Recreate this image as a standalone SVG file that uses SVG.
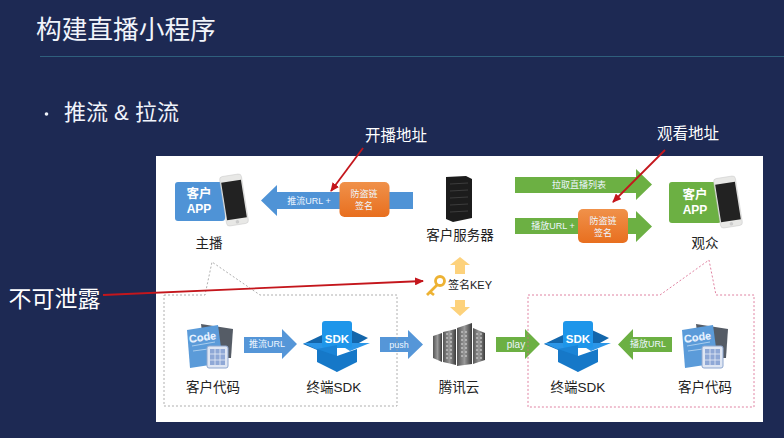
<svg xmlns="http://www.w3.org/2000/svg" xmlns:xlink="http://www.w3.org/1999/xlink" width="784" height="438" viewBox="0 0 784 438">
<style>
text{font-family:"Liberation Sans","Noto Sans CJK SC",sans-serif;fill:#222;text-anchor:middle}
.w{fill:#fff}
.h{fill:#f1f4fb;text-anchor:start}
.l{font-size:13.5px}
.s{font-size:9px;fill:#eef6ff}
.b{font-weight:bold;fill:#fff}
.red{stroke:#c4161c;fill:none;marker-end:url(#ra)}
.dg{fill:none;stroke:#9a9a9a;stroke-width:.8;stroke-dasharray:2 2}
.dr{fill:none;stroke:#d8638a;stroke-width:.8;stroke-dasharray:2 2}
</style>
<defs>
<marker id="ra" markerUnits="userSpaceOnUse" markerWidth="9" markerHeight="8" refX="8" refY="4" orient="auto"><path d="M0 0L9 4L0 8Z" fill="#c4161c"/></marker>
<linearGradient id="or" x1="0" y1="0" x2="0" y2="1"><stop offset="0" stop-color="#f0914a"/><stop offset="1" stop-color="#e86f1f"/></linearGradient>
<linearGradient id="sv" x1="0" y1="0" x2="1" y2="0"><stop offset="0" stop-color="#555"/><stop offset=".5" stop-color="#999"/><stop offset="1" stop-color="#3a3a3a"/></linearGradient>
<g id="phone">
<rect x="-11" y="-25" width="22" height="50" rx="3" fill="#e8e8e6" stroke="#c8c8c8" stroke-width=".5"/>
<rect x="-10" y="-19" width="20" height="38" fill="#222"/>
<circle cx="0" cy="22" r="1.800" fill="#ccc"/>
</g>
<g id="rack">
<path d="M0 0V28M4 0V28" stroke="#ddd" stroke-width="1" stroke-dasharray="2 2"/>
</g>
<g id="code">
<path d="M201 324L233 329L231 358L205 358Z" fill="#555c66"/>
<path d="M187 330L218 325L223 363L190 368Z" fill="#5b9bd9"/>
<path d="M192 341L215 337M192 346L215 342M193 351L208 349" stroke="#a9cdee" stroke-width="1"/>
<rect x="207" y="346" width="21" height="22" rx="2" fill="#dfe6f3" stroke="#8da6cf"/>
<path d="M210 349h15v16h-15z" fill="#8fa8d6"/>
<path d="M215 349v16M220 349v16M210 354h15M210 360h15" stroke="#e6ecf8" stroke-width=".8"/>
<text x="203" y="341" transform="rotate(-8 203 341)" style="font-size:11px;font-weight:bold;fill:#e8f2ff">Code</text>
</g>
<g id="sdk">
<path d="M322 335L303 344L322 352Z" fill="#1366ab"/>
<path d="M351 330L368 338L348 349Z" fill="#1366ab"/>
<path d="M303 343L320 351L337 343Z" fill="#2b96e8"/>
<path d="M337 343L370 343L350 351Z" fill="#2b96e8"/>
<rect x="322" y="321" width="30" height="27" rx="3" fill="#1e96ea"/>
<path d="M317 349L337 345L337 372Z" fill="#1b84d6"/>
<path d="M317 349L337 356L357 349L357 362L337 372L317 362Z" fill="#1678c8"/>
<text x="337" y="343" style="font-size:11.500px;font-weight:bold;fill:#fff">SDK</text>
</g>
</defs>
<rect width="784" height="438" fill="#1d2953"/>
<g id="header">
<text x="36" y="39" class="h" style="font-size:25.700px">构建直播小程序</text>
<path d="M40 56.500H784" stroke="#2f5f7c" stroke-width="1"/>
<circle cx="46.500" cy="114" r="1.800" fill="#f1f4fb"/>
<text x="64" y="120" class="h" style="font-size:22px">推流 &amp; 拉流</text>
</g>
<rect id="panel" x="156" y="156" width="607" height="266" fill="#fff"/>
<g id="connectors">
<path id="arrow-push-url-top" d="M413 192V209H277V216L261 200.500L277 185V192Z" fill="#4f93d6"/>
<path id="arrow-list" d="M515 177H636V169L652 184.500L636 200V193H515Z" fill="#6cb043"/>
<path id="arrow-play-url" d="M515 218H636V211L652 226.500L636 242V234H515Z" fill="#6cb043"/>
<path id="arrow-key-up" d="M460 257L470 265H465V274H455V265H450Z" fill="#fdd27c"/>
<path id="arrow-key-down" d="M460 316L470 307H465V300H455V307H450Z" fill="#fdd27c"/>
<path id="arrow-code-sdk" d="M244 337H282V329L297 344L282 359V353H244Z" fill="#5596d8"/>
<path id="arrow-push" d="M380 337H408V330L423 344.500L408 359V352H380Z" fill="#5596d8"/>
<path id="arrow-play" d="M496 337H525V329L540 344L525 359V352H496Z" fill="#6cb043"/>
<path id="arrow-code-sdk-r" d="M672 337H633V329L618 344.500L633 360V352H672Z" fill="#6cb043"/>
<text x="309" y="204" class="s">推流URL +</text>
<text x="579" y="188" class="s">拉取直播列表</text>
<text x="553" y="229" class="s">播放URL +</text>
<text x="267" y="347" class="s">推流URL</text>
<text x="399" y="348" class="s">push</text>
<text x="516" y="348" class="s" style="font-size:10px">play</text>
<text x="648" y="347" class="s">播放URL</text>
<path class="dg" d="M164 295H205L212 262L260 295H397V406H164Z"/>
<path class="dr" d="M528 295H660L709 260L716 295H754V407H528Z"/>
<path class="red" stroke-width="1.800" d="M363 148L331 191"/>
<path class="red" stroke-width="1.800" d="M665 150L613 202"/>
<path class="red" stroke-width="1.800" d="M103 295L423 281"/>
</g>
<g id="node-host-app">
<rect x="175" y="182" width="50" height="39" rx="3" fill="#4f93d6"/>
<text x="199" y="198" class="b" style="font-size:12.500px">客户</text>
<text x="199" y="213" class="b" style="font-size:12px">APP</text>
<use xlink:href="#phone" href="#phone" transform="translate(234 200) rotate(-9)"/>
<text x="209" y="248" class="l">主播</text>
</g>
<g id="node-sign-left">
<rect x="339.500" y="182" width="50" height="35" rx="5" fill="url(#or)"/>
<text x="364" y="197" class="s">防盗链</text>
<text x="364" y="209" class="s">签名</text>
</g>
<g id="node-server">
<path d="M446 177L466 176L472 179V218L453 222L446 219Z" fill="#1c1c1c"/>
<path d="M450 184L468 183M450 191L468 190M450 198L468 197M450 205L468 204M450 212L468 211" stroke="#3c3c3c" stroke-width="1"/>
<text x="460" y="240" class="l">客户服务器</text>
</g>
<g id="node-list-sign">
<rect x="578" y="209" width="50" height="34" rx="5" fill="url(#or)"/>
<text x="603" y="224" class="s">防盗链</text>
<text x="603" y="236" class="s">签名</text>
</g>
<g id="node-viewer-app">
<rect x="669" y="182" width="52" height="41" rx="3" fill="#6cb043"/>
<text x="695" y="199" class="b" style="font-size:12.500px">客户</text>
<text x="695" y="214" class="b" style="font-size:12px">APP</text>
<use xlink:href="#phone" href="#phone" transform="translate(728 202) rotate(-9)"/>
<text x="705" y="248" class="l">观众</text>
</g>
<g id="node-key">
<circle cx="440" cy="281" r="4.500" fill="none" stroke="#edb233" stroke-width="2.800"/>
<path d="M437 285L427 295M430 292L434 295" stroke="#edb233" stroke-width="2.800" fill="none"/>
<text x="470" y="289" style="font-size:11px">签名KEY</text>
</g>
<g id="node-code-left">
<use xlink:href="#code" href="#code"/>
<text x="213" y="392" class="l">客户代码</text>
</g>
<g id="node-sdk-left">
<use xlink:href="#sdk" href="#sdk"/>
<text x="334" y="392" class="l">终端SDK</text>
</g>
<g id="node-cloud">
<path d="M433 336L442 333V362L433 358Z" fill="url(#sv)"/>
<path d="M443 332L456 329V365L443 362Z" fill="url(#sv)"/>
<path d="M457 328L472 323V364L457 366Z" fill="url(#sv)"/>
<path d="M473 328L485 333V360L473 364Z" fill="url(#sv)"/>
<use xlink:href="#rack" href="#rack" transform="translate(447 333)"/>
<use xlink:href="#rack" href="#rack" transform="translate(462 331)"/>
<use xlink:href="#rack" href="#rack" transform="translate(477 333)"/>
<text x="459" y="392" class="l">腾讯云</text>
</g>
<g id="node-sdk-right">
<use xlink:href="#sdk" href="#sdk" transform="translate(241 0)"/>
<text x="578" y="392" class="l">终端SDK</text>
</g>
<g id="node-code-right">
<use xlink:href="#code" href="#code" transform="translate(495 0)"/>
<text x="705" y="392" class="l">客户代码</text>
</g>
<g id="annotations">
<text x="396" y="141" class="w" style="font-size:15.500px">开播地址</text>
<text x="688" y="139" class="w" style="font-size:15.500px">观看地址</text>
<text x="54.500" y="307" class="w" style="font-size:23px">不可泄露</text>
</g>
</svg>
